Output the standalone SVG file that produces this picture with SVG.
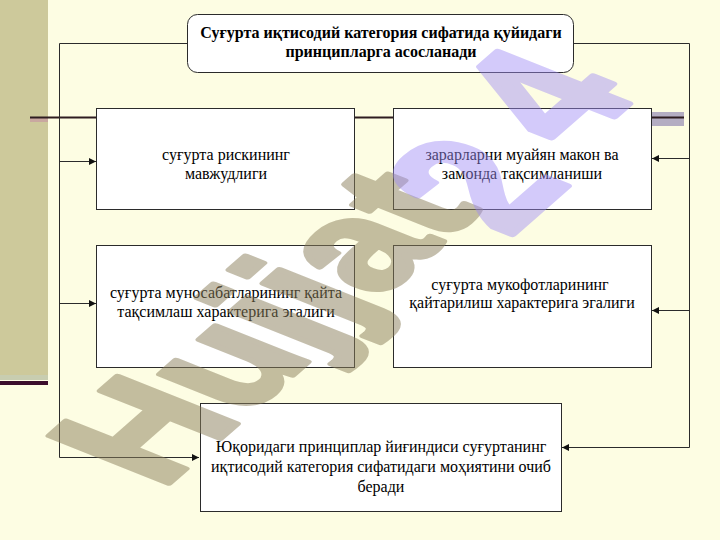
<svg xmlns="http://www.w3.org/2000/svg" width="720" height="540" viewBox="0 0 720 540">
<defs>
<style>
.box{fill:#FFFFFF;stroke:#2B2B2B;stroke-width:1}
.t{font-family:"Liberation Serif","Times New Roman",serif;font-size:16px;fill:#000;text-anchor:middle}
.tb{font-weight:bold}
.c{stroke:#2B2B2B;stroke-width:1;fill:none}
.wm{font-family:"Liberation Sans",Arial,sans-serif;font-weight:bold;font-size:100px;stroke-width:4;stroke-linejoin:round}
</style>
<marker id="ah" viewBox="0 0 10 10" refX="10" refY="5" markerWidth="7" markerHeight="7" markerUnits="userSpaceOnUse" orient="auto">
<path d="M0,0 L10,5 L0,10 z" fill="#111"/>
</marker>
</defs>
<rect x="0" y="0" width="720" height="540" fill="#FDFDE3"/>
<g id="theme">
<rect x="0" y="0" width="48" height="376" fill="#CDC99B"/>
<rect x="0" y="375" width="48" height="5" fill="#C8CDB0"/>
<rect x="0" y="381" width="48" height="4" fill="#3C0E2C"/>
<rect x="30" y="117" width="18" height="5" fill="#C9A8A0"/>
<rect x="652" y="112" width="32" height="14" fill="#B4ADC2"/>
<line x1="30" y1="117.5" x2="684" y2="117.5" stroke="#2E1C20" stroke-width="2"/>
</g>
<g id="connectors">
<polyline class="c" points="187,43.5 59.5,43.5 59.5,457.5"/>
<polyline class="c" points="574,43.5 689.5,43.5 689.5,447.5"/>
<line class="c" x1="59.5" y1="161.5" x2="96" y2="161.5" marker-end="url(#ah)"/>
<line class="c" x1="59.5" y1="303.5" x2="96" y2="303.5" marker-end="url(#ah)"/>
<line class="c" x1="59.5" y1="457.5" x2="199" y2="457.5" marker-end="url(#ah)"/>
<line class="c" x1="689.5" y1="158.5" x2="652" y2="158.5" marker-end="url(#ah)"/>
<line class="c" x1="689.5" y1="310.5" x2="652" y2="310.5" marker-end="url(#ah)"/>
<line class="c" x1="689.5" y1="447.5" x2="562" y2="447.5" marker-end="url(#ah)"/>
</g>
<g id="title">
<rect class="box" x="187.5" y="14.5" width="386" height="58" rx="10" ry="10"/>
<text class="t tb" x="381" y="38">Суғурта иқтисодий категория сифатида қуйидаги</text>
<text class="t tb" x="381" y="57">принципларга асосланади</text>
</g>
<g id="n1">
<rect class="box" x="96.5" y="108.5" width="258" height="101"/>
<text class="t" x="226" y="160">суғурта рискининг</text>
<text class="t" x="226" y="179">мавжудлиги</text>
</g>
<g id="n2">
<rect class="box" x="393.5" y="108.5" width="258" height="101"/>
<text class="t" x="522" y="160">зарарларни муайян макон ва</text>
<text class="t" x="522" y="179">замонда тақсимланиши</text>
</g>
<g id="n3">
<rect class="box" x="96.5" y="245.5" width="258" height="122"/>
<text class="t" x="226" y="298">суғурта муносабатларининг қайта</text>
<text class="t" x="226" y="317">тақсимлаш характерига эгалиги</text>
</g>
<g id="n4">
<rect class="box" x="393.5" y="245.5" width="258" height="122"/>
<text class="t" x="520" y="290">суғурта мукофотларининг</text>
<text class="t" x="522" y="308">қайтарилиш характерига эгалиги</text>
</g>
<g id="n5">
<rect class="box" x="200.5" y="403.5" width="361" height="108"/>
<text class="t" x="381" y="452">Юқоридаги принциплар йиғиндиси суғуртанинг</text>
<text class="t" x="381" y="472">иқтисодий категория сифатидаги моҳиятини очиб</text>
<text class="t" x="381" y="492">беради</text>
</g>
<g id="watermark">
<g opacity="0.5">
<text class="wm" transform="matrix(1.155 -1.012 1.73 0.69 161 490)" fill="#8B7F5C" stroke="#8B7F5C">Hujjat</text>
</g>
<g opacity="0.45">
<text class="wm" transform="matrix(1.155 -1.012 1.903 0.759 508 238)" fill="#9F8CF5" stroke="#9F8CF5">2</text>
<text class="wm" transform="matrix(1.155 -1.012 1.903 0.759 576 150)" fill="#9F8CF5" stroke="#9F8CF5">4</text>
</g>
</g>
</svg>
